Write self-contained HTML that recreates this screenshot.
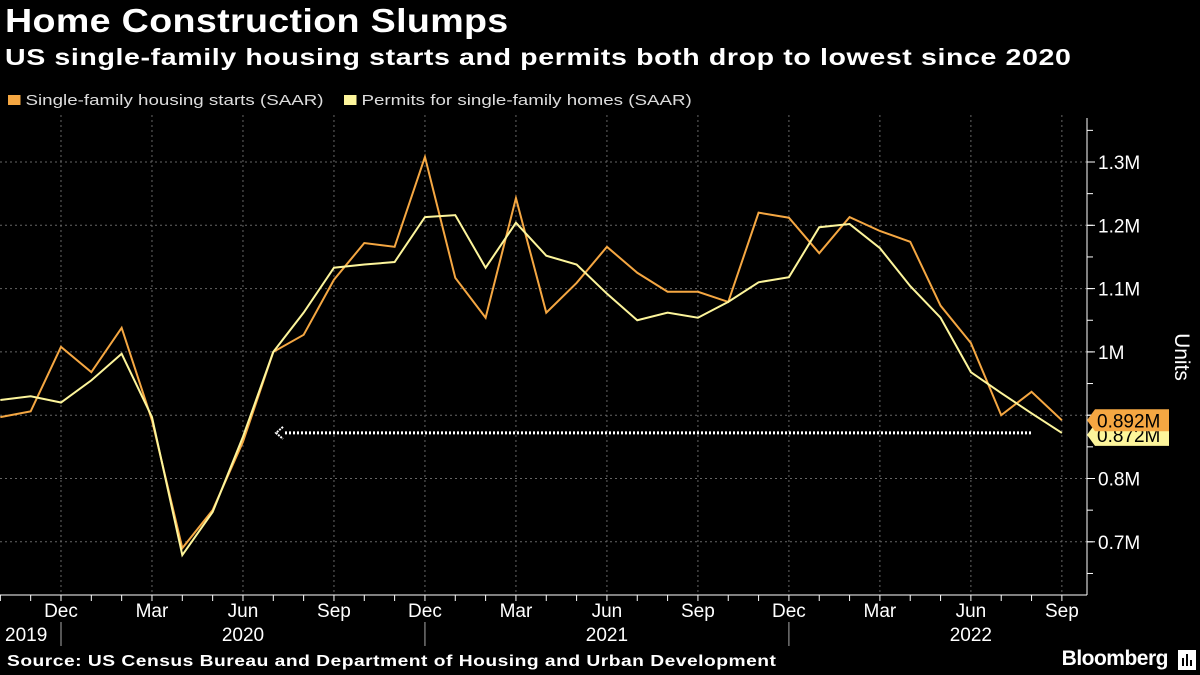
<!DOCTYPE html>
<html><head><meta charset="utf-8"><style>
body{margin:0;background:#000;width:1200px;height:675px;overflow:hidden;font-family:"Liberation Sans",sans-serif;color:#fff}
#title{position:absolute;left:5px;top:2px;font-size:33px;font-weight:bold;letter-spacing:0.3px;transform:scaleX(1.14);transform-origin:0 0;white-space:nowrap}
#subtitle{position:absolute;left:5px;top:44px;font-size:23px;font-weight:bold;letter-spacing:0.5px;transform:scaleX(1.24);transform-origin:0 0;white-space:nowrap}
.leg{position:absolute;top:92px;font-size:15px;color:#ddd;transform:scaleX(1.25);transform-origin:0 0;white-space:nowrap}
.sw{display:inline-block;width:10px;height:10px;margin-right:4px}
#source{position:absolute;left:7px;top:653px;font-size:15.5px;font-weight:bold;letter-spacing:0.4px;transform:scaleX(1.24);transform-origin:0 0;white-space:nowrap}
#brand{position:absolute;right:32px;top:647px;font-size:21px;font-weight:bold;letter-spacing:-0.5px}
</style></head><body>
<div id="title">Home Construction Slumps</div>
<div id="subtitle">US single-family housing starts and permits both drop to lowest since 2020</div>
<div class="leg" style="left:8px"><span class="sw" style="background:#f5a742"></span>Single-family housing starts (SAAR)</div>
<div class="leg" style="left:344px"><span class="sw" style="background:#fdf59b"></span>Permits for single-family homes (SAAR)</div>
<svg id="chart" width="1200" height="675" style="position:absolute;left:0;top:0"></svg>
<div id="source">Source: US Census Bureau and Department of Housing and Urban Development</div>
<div id="brand">Bloomberg</div>
<svg width="18" height="20" style="position:absolute;left:1178px;top:650px"><rect x="0" y="0" width="18" height="20" fill="#fff"/><rect x="4" y="8" width="2" height="8" fill="#000"/><rect x="8" y="4" width="2" height="12" fill="#000"/><rect x="12" y="10" width="2" height="6" fill="#000"/></svg>
<script>
const months=["Oct","Nov","Dec","Jan","Feb","Mar","Apr","May","Jun","Jul","Aug","Sep","Oct","Nov","Dec","Jan","Feb","Mar","Apr","May","Jun","Jul","Aug","Sep","Oct","Nov","Dec","Jan","Feb","Mar","Apr","May","Jun","Jul","Aug","Sep"];
const starts=[0.897,0.906,1.008,0.968,1.038,0.892,0.69,0.75,0.858,1.0,1.027,1.114,1.172,1.166,1.308,1.117,1.054,1.243,1.062,1.109,1.166,1.125,1.095,1.095,1.079,1.22,1.212,1.156,1.213,1.191,1.174,1.073,1.014,0.9,0.937,0.892];
const permits=[0.924,0.93,0.92,0.955,0.997,0.897,0.679,0.747,0.866,1.0,1.062,1.133,1.138,1.142,1.213,1.216,1.133,1.204,1.152,1.138,1.092,1.05,1.062,1.054,1.079,1.11,1.118,1.197,1.202,1.164,1.104,1.054,0.968,0.935,0.903,0.872];
const yTicks=[0.7,0.8,0.9,1.0,1.1,1.2,1.3];
const yTickLabels=["0.7M","0.8M","","1M","1.1M","1.2M","1.3M"];
const xLabelIdx=[2,5,8,11,14,17,20,23,26,29,32,35];
const yearLabels=[["2019",0],["2020",8],["2021",20],["2022",32]];
const yearDividers=[2,14,26];
const svg=document.getElementById('chart');
const NS='http://www.w3.org/2000/svg';
const X=i=>0.33+i*30.33;
const Y=v=>162+(1.3-v)*633;
function mk(t,a){const e=document.createElementNS(NS,t);for(const k in a)e.setAttribute(k,a[k]);svg.appendChild(e);return e;}
yTicks.forEach((v,i)=>{
 const g=mk('line',{x1:0,x2:1087,y1:Y(v),y2:Y(v),stroke:'#666','stroke-dasharray':'2,3','stroke-width':1});
 
 
 mk('line',{x1:1087,x2:1095,y1:Y(v),y2:Y(v),stroke:'#fff'});
 if(yTickLabels[i]){const t=mk('text',{x:1098,y:Y(v)+7,fill:'#fff','font-size':19,'font-family':'Liberation Sans'});t.textContent=yTickLabels[i];
 
 }
});
for(let v=0.65;v<1.36;v+=0.05){mk('line',{x1:1087,x2:1093,y1:Y(v),y2:Y(v),stroke:'#fff'});}
xLabelIdx.forEach(i=>{
 const g=mk('line',{x1:X(i),x2:X(i),y1:115,y2:595,stroke:'#666','stroke-dasharray':'2,3'});
 
 
 const t=mk('text',{x:X(i),y:617,fill:'#fff','font-size':19,'text-anchor':'middle','font-family':'Liberation Sans'});t.textContent=months[i];
 
 
});
months.forEach((m,i)=>mk('line',{x1:X(i),x2:X(i),y1:595,y2:601,stroke:'#fff'}));
yearDividers.forEach(i=>mk('line',{x1:X(i),x2:X(i),y1:622,y2:646,stroke:'#aaa'}));
yearLabels.forEach(([l,i])=>{const t=mk('text',{x:l==="2019"?5:X(i),y:641,fill:'#fff','font-size':19,'text-anchor':l==="2019"?'start':'middle','font-family':'Liberation Sans'});t.textContent=l;
 
 });
mk('line',{x1:0,x2:1087,y1:595,y2:595,stroke:'#fff'});
mk('line',{x1:1087,x2:1087,y1:118,y2:595,stroke:'#fff'});
const ut=mk('text',{x:1175,y:357,fill:'#fff','font-size':21,'text-anchor':'middle','font-family':'Liberation Sans',transform:'rotate(90 1175 357)'});ut.textContent='Units';


const last=permits[permits.length-1];
const ref=mk('line',{x1:285,x2:1032,y1:Y(last),y2:Y(last),stroke:'#fff','stroke-width':3,'stroke-dasharray':'2,2'});


mk('path',{d:`M283 ${Y(last)-6} L276 ${Y(last)} L283 ${Y(last)+6}`,stroke:'#fff','stroke-width':2,fill:'none','stroke-dasharray':'2,1'});
function line(data,color,name){const p=mk('polyline',{points:data.map((v,i)=>X(i)+','+Y(v)).join(' '),fill:'none',stroke:color,'stroke-width':2});
 
 }
line(starts,'#f5a742','starts-line');
line(permits,'#fdf59b','permits-line');
function badge(v,color,name,yy){const g=mk('path',{d:`M1087 ${yy} L1095 ${yy-11} L1169 ${yy-11} L1169 ${yy+11} L1095 ${yy+11} Z`,fill:color});
 
 
 const t=mk('text',{x:1097,y:yy+7,fill:'#000','font-size':19,'font-family':'Liberation Sans'});t.textContent=v.toFixed(3)+'M';}
badge(last,'#fdf59b','permits-value-badge',Y(last)+2);
badge(starts[starts.length-1],'#f5a742','starts-value-badge',Y(starts[starts.length-1]));
</script>
</body></html>
